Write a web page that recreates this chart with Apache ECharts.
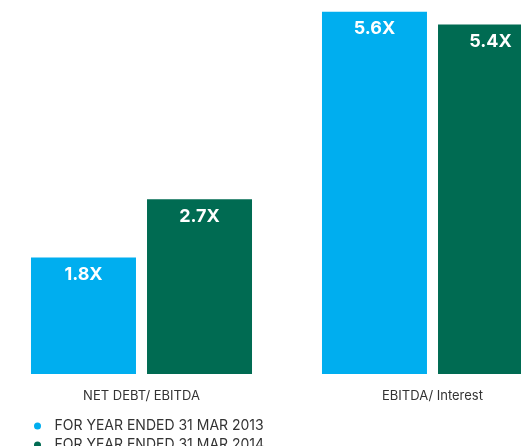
<!DOCTYPE html>
<html>
<head>
<meta charset="utf-8">
<script src="https://cdn.jsdelivr.net/npm/echarts@6/dist/echarts.min.js"></script>
<style>
  html, body { margin: 0; padding: 0; background: #fff; }
  #chart { width: 521px; height: 446px; }
</style>
</head>
<body>
<div id="chart"></div>
<script>
// ratio groups and the two years
var categories = ['NET DEBT/ EBITDA', 'EBITDA/ Interest'];
var seriesNames = ['FOR YEAR ENDED 31 MAR 2013', 'FOR YEAR ENDED 31 MAR 2014'];
var values2013 = [1.8, 5.6];
var values2014 = [2.7, 5.4];

var chart = echarts.init(document.getElementById('chart'));

var labelStyle = {
	show: true,
	position: 'insideTop',
	distance: 8,
	color: '#fff',
	fontFamily: 'Inter',
	fontWeight: 'bold',
	fontSize: 18,
	formatter: function (p) { return p.value.toFixed(1) + 'X'; }
};

// one legend block per year so the vertical list does not wrap at the bottom edge
function legendItem(name, top) {
	return {
		left: 29,
		top: top,
		icon: 'circle',
		itemWidth: 24,
		itemHeight: 7,
		data: [name],
		textStyle: {
			color: '#333',
			fontFamily: 'Inter',
			fontSize: 14
		}
	};
}

var option = {
	backgroundColor: '#fff',
	animation: false,
	grid: {
		left: -4,
		width: 582,
		top: 0,
		height: 374,
		containLabel: false,
		outerBoundsMode: 'none'
	},
	legend: [
		legendItem(seriesNames[0], 414),
		legendItem(seriesNames[1], 433)
	],
	xAxis: {
		type: 'category',
		data: categories,
		axisLine: { show: false },
		axisTick: { show: false },
		axisLabel: {
			color: '#333',
			fontFamily: 'Inter',
			fontSize: 13,
			margin: 16
		}
	},
	yAxis: {
		type: 'value',
		min: 0,
		max: 5.78,
		show: false,
		splitLine: { show: false }
	},
	series: [
		{
			name: seriesNames[0],
			type: 'bar',
			data: values2013,
			barWidth: 105,
			barGap: '10.5%',
			itemStyle: { color: '#00AEEF' },
			label: labelStyle
		},
		{
			name: seriesNames[1],
			type: 'bar',
			data: values2014,
			barWidth: 105,
			barGap: '10.5%',
			itemStyle: { color: '#006B52' },
			label: labelStyle
		}
	]
};

chart.setOption(option);
</script>
</body>
</html>
